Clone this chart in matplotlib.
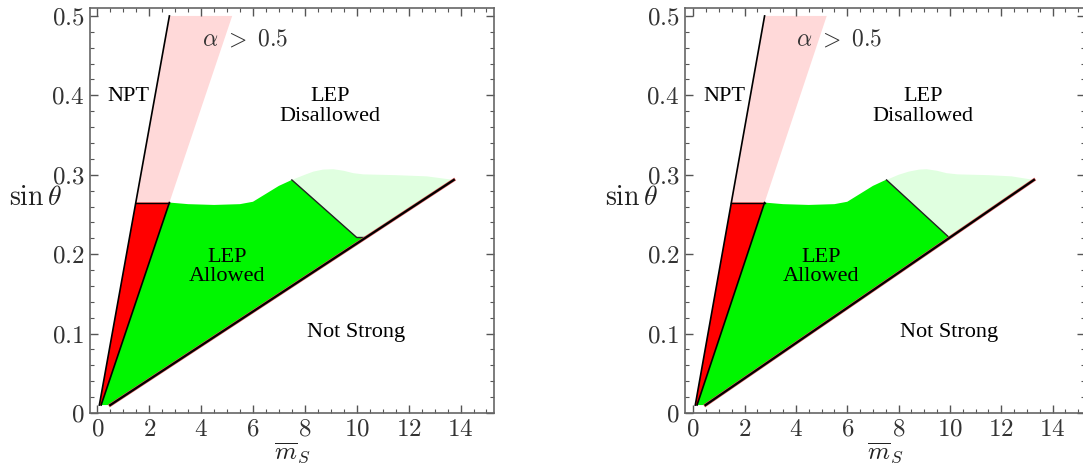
import numpy as np
import matplotlib
matplotlib.use("Agg")
import matplotlib.pyplot as plt
from matplotlib.ticker import MultipleLocator, FuncFormatter

plt.rcParams['font.family'] = ['Liberation Serif', 'DejaVu Serif']
plt.rcParams['mathtext.fontset'] = 'cm'

# --- region boundaries (m_S, sin theta) ---
# NPT line (left edge of everything)
npt_x = [0.08, 2.78]
npt_y = [0.01, 0.50]
# alpha > 0.5 band: right edge
alpha_x = [2.78, 5.20]
alpha_y = [0.265, 0.50]
# red / green boundary
rg_x = [0.15, 2.78]
rg_y = [0.01, 0.265]
red_top = 0.265

# green top edge (LEP allowed)
green_top_x = [2.78, 3.5, 4.5, 5.5, 6.0, 6.5, 7.0, 7.5]
green_top_y = [0.265, 0.263, 0.262, 0.263, 0.266, 0.276, 0.286, 0.2935]

# left panel
lower_x_a = [0.50, 13.74]
lower_y_a = [0.01, 0.2935]
diag_x_a = [7.50, 10.00, 10.30]
diag_y_a = [0.2935, 0.221, 0.221]
pale_top_x_a = [7.5, 8.0, 8.33, 8.7, 9.1, 9.5, 9.87, 10.25, 11.5, 12.7, 13.74]
pale_top_y_a = [0.2935, 0.300, 0.304, 0.3065, 0.307, 0.305, 0.302, 0.3005, 0.2995, 0.298, 0.2935]

# right panel
lower_x_b = [0.48, 13.27]
lower_y_b = [0.01, 0.2935]
diag_x_b = [7.53, 9.97]
diag_y_b = [0.2935, 0.221]
pale_top_x_b = [7.53, 8.0, 8.4, 8.8, 9.09, 9.5, 9.87, 10.3, 11.5, 12.4, 13.27]
pale_top_y_b = [0.2935, 0.300, 0.304, 0.3065, 0.307, 0.305, 0.302, 0.3005, 0.2995, 0.298, 0.2935]

RED = '#ff0000'
GREEN = '#00f600'
PINK = '#ffd9d9'
PALE = '#e0ffe0'


def x_on(x, y, yv):
    return np.interp(yv, y, x)


def y_on(x, y, xv):
    return np.interp(xv, x, y)


def draw_panel(ax, lower_x, lower_y, diag_x, diag_y, pale_x, pale_y, xlim):
    xn_top = x_on(npt_x, npt_y, red_top)

    # alpha > 0.5 band
    ax.fill([xn_top, npt_x[1], alpha_x[1], alpha_x[0]],
            [red_top, npt_y[1], alpha_y[1], alpha_y[0]], color=PINK, lw=0)

    # red (NPT-allowed strip)
    ax.fill([npt_x[0], xn_top, rg_x[1], rg_x[0]],
            [npt_y[0], red_top, rg_y[1], rg_y[0]], color=RED, lw=0)

    # pale green (LEP disallowed part)
    xe = lower_x[1]
    px = list(pale_x) + [xe] + [diag_x[-1]] + list(diag_x[::-1])
    py = list(pale_y) + [lower_y[1]] + [y_on(lower_x, lower_y, diag_x[-1])] + list(diag_y[::-1])
    ax.fill(px, py, color=PALE, lw=0)

    # green (LEP allowed)
    gx = [rg_x[0], lower_x[0], diag_x[-1]] + list(diag_x[::-1]) + green_top_x[::-1]
    gy = [rg_y[0], lower_y[0], y_on(lower_x, lower_y, diag_x[-1])] + list(diag_y[::-1]) + green_top_y[::-1]
    ax.fill(gx, gy, color=GREEN, lw=0)

    # boundary lines
    ax.plot(npt_x, npt_y, color='black', lw=1.2)
    ax.plot(rg_x, rg_y, color='black', lw=1.2)
    ax.plot([xn_top, rg_x[1]], [red_top, red_top], color='black', lw=1.0)
    ax.plot(diag_x, diag_y, color='#222222', lw=1.0)
    ax.plot(lower_x, lower_y, color='#e06060', lw=2.4)
    ax.plot(lower_x, lower_y, color='black', lw=1.6)

    # labels
    ax.text(5.69, 0.47, r'$\alpha\ >\ 0.5$', fontsize=17, ha='center', va='center', color='#333333')
    ax.text(1.2, 0.398, 'NPT', fontsize=16, ha='center', va='center')
    ax.text(8.96, 0.386, 'LEP\nDisallowed', fontsize=16, ha='center', va='center', linespacing=1.05)
    ax.text(4.99, 0.184, 'LEP\nAllowed', fontsize=16, ha='center', va='center', linespacing=1.05)
    ax.text(9.96, 0.102, 'Not Strong', fontsize=16, ha='center', va='center')

    ax.set_xlim(*xlim)
    ax.set_ylim(0, 0.51)
    ax.xaxis.set_major_locator(MultipleLocator(2))
    ax.xaxis.set_minor_locator(MultipleLocator(0.5))
    ax.yaxis.set_major_locator(MultipleLocator(0.1))
    ax.yaxis.set_minor_locator(MultipleLocator(0.02))
    ax.xaxis.set_major_formatter(FuncFormatter(lambda v, p: f'${v:g}$'))
    ax.yaxis.set_major_formatter(FuncFormatter(lambda v, p: f'${v:g}$'))
    ax.tick_params(which='both', direction='in', top=True, right=True,
                   color='#555555', labelsize=18, labelcolor='#333333')
    ax.tick_params(which='major', length=6, width=1.0, pad=4)
    ax.tick_params(which='minor', length=3, width=0.8)
    for s in ax.spines.values():
        s.set_color('#666666')
        s.set_linewidth(1.2)

    ax.set_xlabel(r'$\overline{m}_S$', fontsize=18, labelpad=0, color='#222222')
    ax.set_ylabel(r'$\sin\theta$', fontsize=20, rotation=0, color='#222222')
    ax.yaxis.set_label_coords(-0.135, 0.5)


fig = plt.figure(figsize=(10.83, 4.65), dpi=100)
ax1 = fig.add_axes([90 / 1083, 52 / 465, 404 / 1083, 405 / 465])
ax2 = fig.add_axes([685 / 1083, 52 / 465, 400 / 1083, 405 / 465])

draw_panel(ax1, lower_x_a, lower_y_a, diag_x_a, diag_y_a, pale_top_x_a, pale_top_y_a, (-0.28, 15.29))
draw_panel(ax2, lower_x_b, lower_y_b, diag_x_b, diag_y_b, pale_top_x_b, pale_top_y_b, (-0.32, 15.26))

fig.savefig('out.png', dpi=100)
